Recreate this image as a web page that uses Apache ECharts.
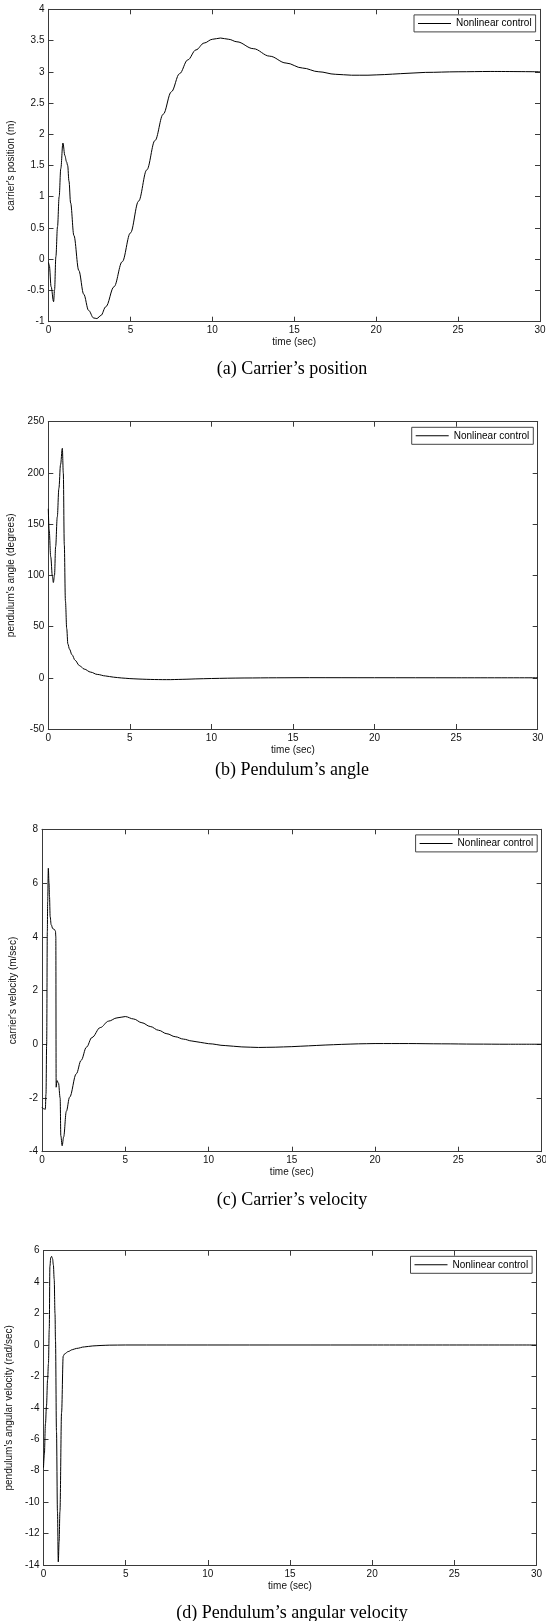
<!DOCTYPE html>
<html>
<head>
<meta charset="utf-8">
<script src="https://cdn.jsdelivr.net/npm/echarts@6/dist/echarts.min.js"></script>
<style>
html, body { margin: 0; padding: 0; background: #fff; }
#main { width: 546px; height: 1621px; }
</style>
</head>
<body>
<div id="main"></div>
<script>
// time axis, shared by the four plots: [min, max, step]
const timeAxis = [0, 30, 5];

// (a) carrier's position (m)
const posT = [0, 0.05, 0.16, 0.31, 0.37, 0.45, 0.55, 0.65, 0.75, 0.88, 1.0, 1.1, 1.17, 1.25, 1.35, 1.55, 1.85, 2.15, 2.45, 2.75, 2.95, 3.2, 3.5, 4.0, 4.5, 5.0, 5.5, 6.0, 6.5, 7.0, 7.5, 8.0, 8.5, 9.0, 9.5, 10.0, 10.5, 11.0, 11.5, 12.5, 13.5, 14.5, 15.5, 16.5, 17.5, 18.5, 19.5, 20.5, 21.5, 23, 25, 27, 30];
const posY = [-0.05, -0.1, -0.44, -0.68, -0.49, 0.04, 0.52, 1.0, 1.45, 1.86, 1.66, 1.56, 1.5, 1.25, 0.9, 0.38, -0.18, -0.56, -0.82, -0.94, -0.95, -0.9, -0.76, -0.44, -0.04, 0.42, 0.93, 1.43, 1.9, 2.32, 2.68, 2.97, 3.19, 3.35, 3.46, 3.52, 3.54, 3.52, 3.48, 3.37, 3.25, 3.14, 3.06, 3.0, 2.96, 2.945, 2.945, 2.955, 2.97, 2.99, 3.0, 3.005, 3.0];
const posAxis = [-1, 4, 0.5];

// (b) pendulum's angle (degrees)
const angT = [0, 0.05, 0.15, 0.25, 0.31, 0.38, 0.45, 0.55, 0.65, 0.75, 0.86, 0.92, 0.98, 1.05, 1.13, 1.2, 1.3, 1.45, 1.65, 1.9, 2.2, 2.6, 3.0, 3.5, 4.0, 4.5, 5.0, 5.5, 6.0, 6.5, 7.0, 7.5, 8.0, 8.5, 9.0, 10, 11, 12, 14, 16, 20, 25, 30];
const angY = [165, 145, 118, 99, 93, 100, 128, 157, 185, 208, 224, 200, 130, 75, 48, 33, 28, 22.5, 17, 12, 8.5, 5.5, 3.3, 1.8, 0.6, -0.2, -0.8, -1.2, -1.5, -1.7, -1.8, -1.8, -1.6, -1.4, -1.1, -0.7, -0.4, -0.2, 0, 0.1, 0.05, 0, 0];
const angAxis = [-50, 250, 50];

// (c) carrier's velocity (m/sec)
const velT = [0, 0.1, 0.2, 0.24, 0.28, 0.32, 0.34, 0.38, 0.42, 0.45, 0.49, 0.55, 0.65, 0.75, 0.81, 0.83, 0.85, 0.9, 0.99, 1.09, 1.13, 1.21, 1.3, 1.46, 1.66, 2.06, 2.35, 2.67, 3.0, 3.5, 4.0, 4.5, 5.0, 5.5, 6.0, 6.5, 7.0, 7.5, 8.0, 8.5, 9.0, 9.5, 10.0, 11.0, 12.0, 13.0, 14.0, 15.0, 16.0, 17.0, 18.0, 19.0, 20.0, 22.0, 24.0, 26.0, 28.0, 30.0];
const velY = [-2.35, -2.4, -2.42, -1.85, 0.0, 4.2, 5.3, 6.55, 6.0, 5.5, 4.75, 4.45, 4.3, 4.27, 4.2, 4.0, -1.6, -1.35, -1.45, -2.0, -3.4, -3.78, -3.45, -2.5, -1.97, -1.1, -0.6, -0.11, 0.25, 0.62, 0.86, 0.98, 1.03, 0.94, 0.8, 0.66, 0.52, 0.39, 0.28, 0.19, 0.12, 0.07, 0.02, -0.05, -0.1, -0.12, -0.11, -0.09, -0.06, -0.03, -0.005, 0.015, 0.025, 0.025, 0.015, 0.005, 0.0, 0.0];
const velAxis = [-4, 8, 2];

// (d) pendulum's angular velocity (rad/sec)
const omgT = [0, 0.05, 0.12, 0.18, 0.25, 0.3, 0.35, 0.39, 0.44, 0.49, 0.55, 0.6, 0.65, 0.7, 0.73, 0.79, 0.85, 0.9, 0.95, 1.0, 1.1, 1.2, 1.3, 1.5, 1.75, 2.0, 2.5, 3.0, 3.5, 4.0, 5.0, 10, 20, 30];
const omgY = [-7.8, -7.0, -5.0, -3.9, -2.2, -1.2, 1.0, 5.0, 5.55, 5.64, 5.5, 5.1, 4.2, 2.0, 0.3, -5.5, -10.6, -13.8, -12.5, -10.6, -4.3, -0.7, -0.55, -0.42, -0.3, -0.22, -0.12, -0.06, -0.03, -0.01, 0, 0, 0, 0];
const omgAxis = [-14, 6, 2];

const yNames = ["carrier's position (m)", "pendulum's angle (degrees)", "carrier's velocity (m/sec)", "pendulum's angular velocity (rad/sec)"];
const captions = ['(a) Carrier\u2019s position', '(b) Pendulum\u2019s angle', '(c) Carrier\u2019s velocity', '(d) Pendulum\u2019s angular velocity'];
const legendName = 'Nonlinear control';

const curves = [[posT, posY], [angT, angY], [velT, velY], [omgT, omgY]];
const yAxes = [posAxis, angAxis, velAxis, omgAxis];

// plot boxes in page pixels (left, top, right, bottom) and the layout of the texts
const boxes = [
  { l: 48.5, t: 9.3, r: 540, b: 321.7, gap: 28, cap: 366 },
  { l: 48.3, t: 421.7, r: 537.7, b: 729, gap: 27, cap: 767 },
  { l: 42, t: 829.3, r: 541.6, b: 1151.7, gap: 22, cap: 1197 },
  { l: 43.5, t: 1250.7, r: 536.5, b: 1565, gap: 24.5, cap: 1610 }
];

const axisColor = '#3a3a3a';
const font = 'Liberation Sans';

const chart = echarts.init(document.getElementById('main'));

const grids = [], xAxes = [], yAxesOpt = [], series = [], legends = [], titles = [];

boxes.forEach(function (b, i) {
  grids.push({
    left: b.l, top: b.t, width: b.r - b.l, height: b.b - b.t,
    outerBoundsMode: 'none', containLabel: false
  });

  const line = { show: true, onZero: false, lineStyle: { color: axisColor, width: 1 } };
  const tick = { show: true, inside: true, length: 5, lineStyle: { color: axisColor } };

  // bottom and top time axes
  xAxes.push({
    type: 'value', gridIndex: i, position: 'bottom',
    min: timeAxis[0], max: timeAxis[1], interval: timeAxis[2],
    axisLine: line, axisTick: tick, splitLine: { show: false },
    axisLabel: { color: '#111', fontSize: 10, fontFamily: font, margin: 4 },
    name: 'time (sec)', nameLocation: 'middle', nameGap: 16,
    nameTextStyle: { color: '#111', fontSize: 10, fontFamily: font }
  });
  xAxes.push({
    type: 'value', gridIndex: i, position: 'top',
    min: timeAxis[0], max: timeAxis[1], interval: timeAxis[2],
    axisLine: line, axisTick: tick, splitLine: { show: false },
    axisLabel: { show: false }
  });

  // left and right value axes
  const ya = yAxes[i];
  yAxesOpt.push({
    type: 'value', gridIndex: i, position: 'left',
    min: ya[0], max: ya[1], interval: ya[2],
    axisLine: line, axisTick: tick, splitLine: { show: false },
    axisLabel: { color: '#111', fontSize: 10, fontFamily: font, margin: 4 },
    name: yNames[i], nameLocation: 'middle', nameGap: b.gap, nameRotate: 90,
    nameTextStyle: { color: '#111', fontSize: 10, fontFamily: font }
  });
  yAxesOpt.push({
    type: 'value', gridIndex: i, position: 'right',
    min: ya[0], max: ya[1], interval: ya[2],
    axisLine: line, axisTick: tick, splitLine: { show: false },
    axisLabel: { show: false }
  });

  const t = curves[i][0], y = curves[i][1];
  series.push({
    name: legendName, type: 'line',
    xAxisIndex: 2 * i, yAxisIndex: 2 * i,
    data: t.map(function (v, k) { return [v, y[k]]; }),
    symbol: 'none', showSymbol: false,
    smooth: 0.35, smoothMonotone: 'x',
    lineStyle: { color: '#000', width: 1 },
    itemStyle: { color: '#000' }
  });

  legends.push({
    data: [legendName],
    right: 546 - (b.r - 4.4), top: b.t + 5.6,
    icon: 'rect', itemWidth: 33, itemHeight: 1, itemGap: 0,
    padding: [3, 4, 3, 4],
    borderColor: '#444', borderWidth: 1, backgroundColor: '#fff',
    selectedMode: false,
    itemStyle: { color: '#000' },
    textStyle: { fontSize: 10, color: '#000', fontFamily: font, lineHeight: 11 }
  });

  titles.push({
    text: captions[i], left: 287, top: b.cap - 11, textAlign: 'center',
    textStyle: { fontFamily: 'Liberation Serif', fontSize: 18, fontWeight: 'normal', color: '#000' }
  });
});

option = {
  animation: false,
  backgroundColor: '#fff',
  title: titles,
  legend: legends,
  grid: grids,
  xAxis: xAxes,
  yAxis: yAxesOpt,
  series: series
};

chart.setOption(option);
</script>
</body>
</html>
